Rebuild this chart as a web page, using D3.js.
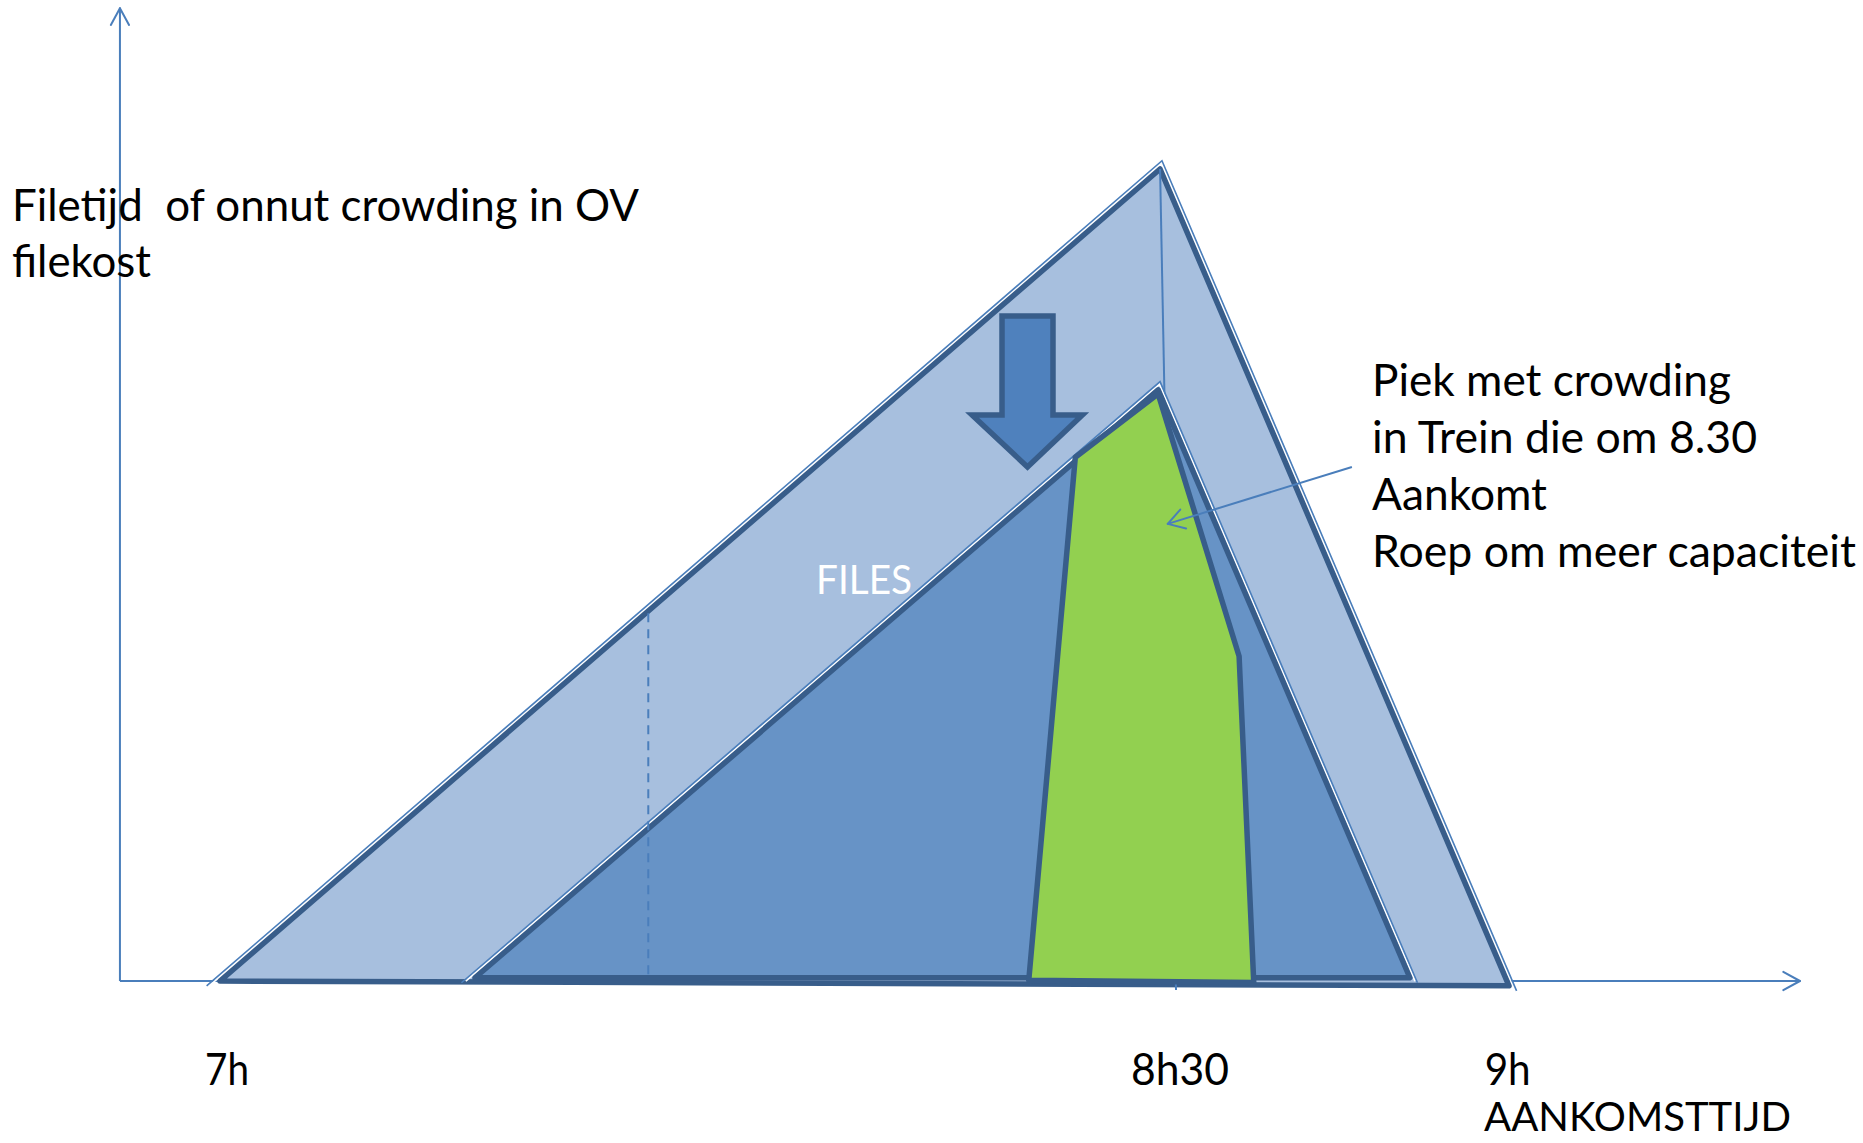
<!DOCTYPE html>
<html>
<head>
<meta charset="utf-8">
<script src="https://cdn.jsdelivr.net/npm/d3@7"></script>
<style>
  html, body { margin: 0; background: #fff; }
  svg { display: block; }
  text { font-family: Lato, "Open Sans", sans-serif; white-space: pre; }
</style>
</head>
<body>
<div id="chart"></div>
<script>
// 数据: x = aankomsttijd (uur), y = filetijd (relatieve eenheid, top = 100)
const tickHours = [7, 8.5, 9];
const tickLabels = ['7h', '8h30', '9h'];
const bigTriangle = [[7.0, 0], [8.475, 100], [9.0225, -0.6]];
const innerTriangle = [[7.40, 0.4], [8.472, 72.8], [8.867, 0.4]];
const greenPeak = [[8.269, 0.1], [8.342, 64.5], [8.472, 72.3], [8.599, 40.0], [8.622, -0.2]];
const peakLine = [[8.475, 100], [8.5, -1.1]];
const dashedLine = [[7.672, 45.3], [7.672, 0.8]];
const arrowShaft = [8.227, 8.307];      // links / rechts van de pijlschacht
const arrowHead = [8.180, 8.353];       // breedte van de pijlpunt
const arrowLevels = [81.9, 69.7, 63.3]; // top, hals, punt
const pointer = [[8.776, 63.3], [8.487, 56.3]];
const axisExtent = [[6.843, 0], [9.479, 119.8]];
const yTitle = ['Filetijd  of onnut crowding in OV', 'filekost'];
const noteLines = ['Piek met crowding', 'in Trein die om 8.30', 'Aankomt', 'Roep om meer capaciteit'];
const xTitle = 'AANKOMSTTIJD';
const areaLabel = 'FILES';

const width = 1863, height = 1143;
const svg = d3.select('#chart').append('svg')
    .attr('width', width)
    .attr('height', height);

// 比例尺
const x = d3.scaleLinear().domain([7, 8.5]).range([220, 1176]);
const y = d3.scaleLinear().domain([0, 100]).range([981, 169]);

const light = '#a7bfde', mid = '#6793c6', dark = '#385d8a',
      axisBlue = '#4a7ebb', arrowFill = '#4f81bd', green = '#92d050';
const outline = 5.5;

const line = d3.line().x(d => x(d[0])).y(d => y(d[1]));
const px = pts => pts.map(d => [x(d[0]), y(d[1])]);

// 向外偏移多边形 (pixel space)
function offsetPolygon(pts, dist) {
    const n = pts.length;
    const c = d3.polygonCentroid(pts);
    const lines = pts.map((p, i) => {
        const q = pts[(i + 1) % n];
        const dx = q[0] - p[0], dy = q[1] - p[1];
        const len = Math.hypot(dx, dy);
        let nx = -dy / len, ny = dx / len;
        const mx = (p[0] + q[0]) / 2 - c[0], my = (p[1] + q[1]) / 2 - c[1];
        if (nx * mx + ny * my < 0) { nx = -nx; ny = -ny; }
        return [[p[0] + nx * dist, p[1] + ny * dist], [q[0] + nx * dist, q[1] + ny * dist]];
    });
    return pts.map((p, i) => {
        const a = lines[(i - 1 + n) % n], b = lines[i];
        const x1 = a[0][0], y1 = a[0][1], x2 = a[1][0], y2 = a[1][1];
        const x3 = b[0][0], y3 = b[0][1], x4 = b[1][0], y4 = b[1][1];
        const den = (x1 - x2) * (y3 - y4) - (y1 - y2) * (x3 - x4);
        const t = ((x1 - x3) * (y3 - y4) - (y1 - y3) * (x3 - x4)) / den;
        return [x1 + t * (x2 - x1), y1 + t * (y2 - y1)];
    });
}

function chevron(g, tip, from, len, angle, color, w) {
    const a = Math.atan2(from[1] - tip[1], from[0] - tip[0]);
    [-angle, angle].forEach(s => {
        g.append('line')
            .attr('x1', tip[0]).attr('y1', tip[1])
            .attr('x2', tip[0] + len * Math.cos(a + s))
            .attr('y2', tip[1] + len * Math.sin(a + s))
            .attr('stroke', color).attr('stroke-width', w)
            .attr('stroke-linecap', 'round');
    });
}

// 外侧细线 (白色间隙 + 蓝线)
function edgeGlow(g, tri, dist) {
    const p = px(tri);
    const o = offsetPolygon(p, dist);
    const w = offsetPolygon(p, dist - 1.6);
    g.append('path').attr('d', d3.line()([w[0], w[1], w[2]]))
        .attr('fill', 'none').attr('stroke', '#fff').attr('stroke-width', 1.8);
    g.append('path').attr('d', d3.line()([o[0], o[1], o[2]]))
        .attr('fill', 'none').attr('stroke', axisBlue).attr('stroke-width', 1.6);
}

// 坐标轴
const axes = svg.append('g');
const [ax0, ay0] = axisExtent[0], [ax1, ay1] = axisExtent[1];
axes.append('path').attr('d', line([[ax0, ay0], [ax1, ay0]]))
    .attr('stroke', axisBlue).attr('stroke-width', 2).attr('fill', 'none');
axes.append('path').attr('d', line([[ax0, ay0], [ax0, ay1]]))
    .attr('stroke', axisBlue).attr('stroke-width', 2).attr('fill', 'none');
chevron(axes, [x(ax1), y(ay0)], [x(ax0), y(ay0)], 19, 0.5, axisBlue, 2);
chevron(axes, [x(ax0), y(ay1)], [x(ax0), y(ay0)], 19, 0.5, axisBlue, 2);

// 大三角形
const shapes = svg.append('g');
edgeGlow(shapes, bigTriangle, 5);
shapes.append('path').attr('d', line(bigTriangle) + 'Z')
    .attr('fill', light).attr('stroke', dark).attr('stroke-width', outline)
    .attr('stroke-linejoin', 'round');

// 8h30 竖线
shapes.append('path').attr('d', line(peakLine))
    .attr('stroke', axisBlue).attr('stroke-width', 2).attr('fill', 'none');

// 内三角形
edgeGlow(shapes, innerTriangle, 5);
shapes.append('path').attr('d', line(innerTriangle) + 'Z')
    .attr('fill', mid).attr('stroke', dark).attr('stroke-width', outline)
    .attr('stroke-linejoin', 'round');

// 绿色峰
shapes.append('path').attr('d', line(greenPeak) + 'Z')
    .attr('fill', green).attr('stroke', dark).attr('stroke-width', outline)
    .attr('stroke-linejoin', 'round');

// 虚线
shapes.append('path').attr('d', line(dashedLine))
    .attr('stroke', axisBlue).attr('stroke-width', 2)
    .attr('stroke-dasharray', '9,7').attr('fill', 'none');

// 向下箭头
const [arrowTop, arrowNeck, arrowTip] = arrowLevels;
const arrowPts = [
    [arrowShaft[0], arrowTop], [arrowShaft[1], arrowTop], [arrowShaft[1], arrowNeck],
    [arrowHead[1], arrowNeck], [(arrowShaft[0] + arrowShaft[1]) / 2, arrowTip],
    [arrowHead[0], arrowNeck], [arrowShaft[0], arrowNeck]
];
shapes.append('path').attr('d', line(arrowPts) + 'Z')
    .attr('fill', arrowFill).attr('stroke', dark).attr('stroke-width', outline)
    .attr('stroke-linejoin', 'miter');

// 注释箭头
const pp = px(pointer);
shapes.append('line')
    .attr('x1', pp[0][0]).attr('y1', pp[0][1])
    .attr('x2', pp[1][0]).attr('y2', pp[1][1])
    .attr('stroke', axisBlue).attr('stroke-width', 2);
chevron(shapes, pp[1], pp[0], 19, 0.55, axisBlue, 2);

// 文字
const labels = svg.append('g').attr('fill', '#000');
function fitText(sel, w) {
    sel.attr('textLength', w).attr('lengthAdjust', 'spacingAndGlyphs');
}
const yTitleW = [627, 139];
yTitle.forEach((t, i) => {
    labels.append('text').attr('x', 12).attr('y', 221 + i * 56)
        .attr('font-size', 44).text(t).call(fitText, yTitleW[i]);
});
const noteW = [359, 385, 175, 484];
noteLines.forEach((t, i) => {
    labels.append('text').attr('x', 1372).attr('y', 396 + i * 57)
        .attr('font-size', 44).text(t).call(fitText, noteW[i]);
});
const tickW = [44, 98, 46];
const tickDx = [7, 4, 13];
tickHours.forEach((h, i) => {
    labels.append('text').attr('x', x(h) + tickDx[i]).attr('y', 1085)
        .attr('text-anchor', 'middle').attr('font-size', 44)
        .text(tickLabels[i]).call(fitText, tickW[i]);
});
labels.append('text').attr('x', 1484).attr('y', 1131)
    .attr('font-size', 41).text(xTitle).call(fitText, 307);
labels.append('text').attr('x', 816).attr('y', 594)
    .attr('font-size', 41).attr('fill', '#fff').text(areaLabel).call(fitText, 96);
</script>
</body>
</html>
